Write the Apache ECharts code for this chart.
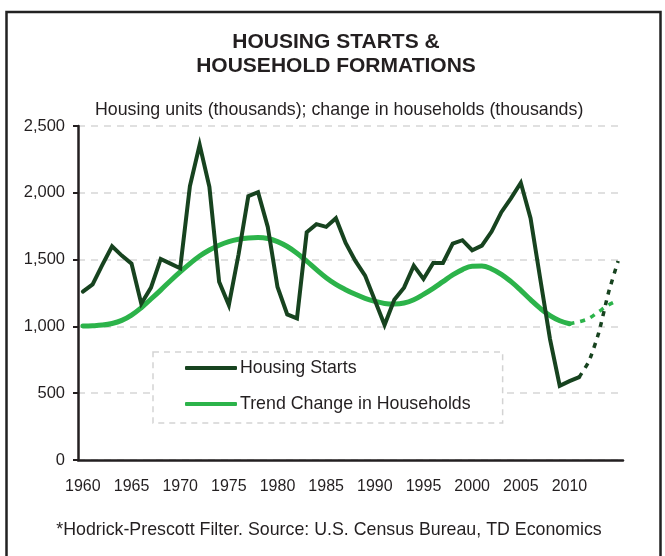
<!DOCTYPE html>
<html><head><meta charset="utf-8">
<script src="https://cdn.jsdelivr.net/npm/echarts@6/dist/echarts.min.js"></script>
<style>html,body{margin:0;padding:0;background:#fff}#c{width:665px;height:556px}</style>
</head><body><div id="c"></div>
<script>
var years = [];
for (var y = 1960; y <= 2015; y++) years.push(String(y));

var housingStarts = [1260,1315,1460,1600,1530,1470,1170,1290,1505,1470,
  1435,2050,2360,2045,1335,1160,1540,1975,2005,1745,
  1295,1090,1060,1705,1765,1745,1810,1625,1490,1380,
  1195,1010,1200,1290,1455,1355,1475,1475,1620,1645,
  1570,1605,1710,1855,1960,2075,1810,1355,905,555,
  590,620,null,null,null,null];
var housingStartsProj = [null,null,null,null,null,null,null,null,null,null,
  null,null,null,null,null,null,null,null,null,null,
  null,null,null,null,null,null,null,null,null,null,
  null,null,null,null,null,null,null,null,null,null,
  null,null,null,null,null,null,null,null,null,null,
  null,620,740,950,1250,1490];
var trendHouseholds = [1003,1005,1010,1022,1045,1085,1140,1205,1272,1342,
  1408,1470,1527,1572,1608,1635,1652,1662,1665,1658,
  1635,1598,1548,1488,1425,1365,1315,1275,1240,1210,
  1188,1172,1168,1175,1200,1240,1285,1335,1385,1425,
  1450,1452,1430,1390,1335,1270,1200,1135,1080,1042,
  1020,null,null,null,null,null];
var trendHouseholdsProj = [null,null,null,null,null,null,null,null,null,null,
  null,null,null,null,null,null,null,null,null,null,
  null,null,null,null,null,null,null,null,null,null,
  null,null,null,null,null,null,null,null,null,null,
  null,null,null,null,null,null,null,null,null,null,
  1020,1035,1060,1110,1160,1195];
var yTicks = [0, 500, 1000, 1500, 2000, 2500];

var DARK = '#17431f', LIGHT = '#2cb34a', TXT = '#231f20';
var FONT = '"Liberation Sans", Arial, sans-serif';

var chart = echarts.init(document.getElementById('c'));
chart.setOption({
  animation: false,
  backgroundColor: '#fff',
  textStyle: { fontFamily: FONT, color: TXT },
  title: [
    { text: 'HOUSING STARTS &\nHOUSEHOLD FORMATIONS', left: 336, top: 30, textAlign: 'center', padding: 0,
      textStyle: { fontFamily: FONT, fontSize: 21, fontWeight: 'bold', color: TXT, lineHeight: 24 } },
    { text: 'Housing units (thousands); change in households (thousands)', left: 95, top: 100, padding: 0,
      textStyle: { fontFamily: FONT, fontSize: 17.8, fontWeight: 'normal', color: TXT, lineHeight: 20 } },
    { text: '*Hodrick-Prescott Filter. Source: U.S. Census Bureau, TD Economics', left: 329, top: 520, textAlign: 'center', padding: 0,
      textStyle: { fontFamily: FONT, fontSize: 17.8, fontWeight: 'normal', color: TXT, lineHeight: 20 } }
  ],
  graphic: [
    { type: 'rect', shape: { x: 6.5, y: 12, width: 654, height: 600 }, style: { fill: null, stroke: '#222', lineWidth: 2.5 }, silent: true, z: 100 }
  ],
  legend: {
    data: ['Housing Starts', 'Trend Change in Households'],
    orient: 'vertical', left: 153, top: 352,
    padding: [6, 32, 9, 32],
    itemWidth: 52, itemHeight: 4, itemGap: 16,
    icon: 'roundRect',
    backgroundColor: '#fff',
    borderColor: '#d3d3d3', borderWidth: 1.5, borderType: [6, 5],
    textStyle: { fontFamily: FONT, fontSize: 17.8, color: TXT, lineHeight: 20, padding: [0, 0, 0, -2] },
    z: 5
  },
  grid: { left: 78, right: 42, top: 126, bottom: 96 },
  xAxis: {
    type: 'category', data: years, boundaryGap: true,
    axisLine: { lineStyle: { color: '#231f20', width: 2.5 } },
    axisTick: { interval: 4, length: 6, lineStyle: { color: '#231f20', width: 2 } },
    axisLabel: { interval: 4, margin: 19, fontSize: 16, color: TXT, fontFamily: FONT,
      formatter: function (v) { return v === '2015' ? '' : v; } },
    splitLine: { show: false }
  },
  yAxis: {
    type: 'value', min: yTicks[0], max: yTicks[yTicks.length - 1], interval: 500,
    axisLine: { show: true, lineStyle: { color: '#231f20', width: 2.5 } },
    axisTick: { show: true, length: 5, lineStyle: { color: '#231f20', width: 2 } },
    axisLabel: { margin: 13, fontSize: 16.5, color: TXT, fontFamily: FONT,
      formatter: function (v) { return v.toLocaleString('en-US'); } },
    splitLine: { show: true, lineStyle: { color: '#d6d6d6', width: 1.5, type: [7, 6] } }
  },
  series: [
    { name: 'Trend Change in Households', type: 'line', data: trendHouseholds, smooth: 0.4, symbol: 'none',
      lineStyle: { color: LIGHT, width: 5, cap: 'round' }, itemStyle: { color: LIGHT }, z: 3 },
    { name: 'Trend proj', type: 'line', data: trendHouseholdsProj, smooth: 0.3, symbol: 'none',
      lineStyle: { color: LIGHT, width: 3.5, type: [5, 6] }, itemStyle: { color: LIGHT }, z: 3 },
    { name: 'Housing Starts', type: 'line', data: housingStarts, symbol: 'none',
      lineStyle: { color: DARK, width: 4, join: 'miter', cap: 'round' }, itemStyle: { color: DARK }, z: 4 },
    { name: 'Starts proj', type: 'line', data: housingStartsProj, smooth: 0.2, symbol: 'none',
      lineStyle: { color: DARK, width: 3.5, type: [5, 6] }, itemStyle: { color: DARK }, z: 4 }
  ]
});
</script></body></html>
